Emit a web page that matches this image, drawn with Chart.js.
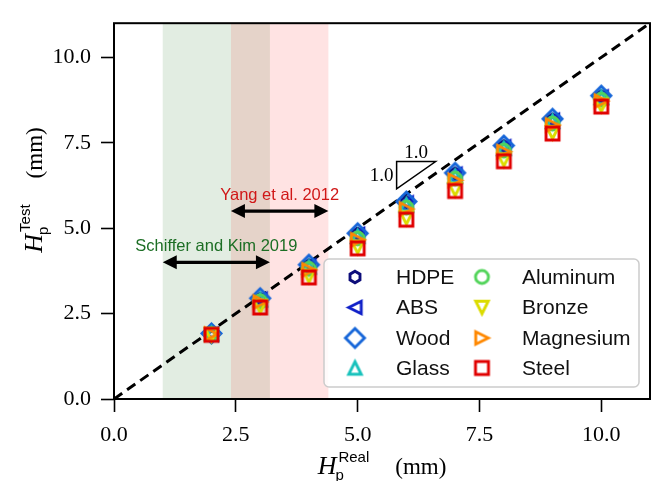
<!DOCTYPE html>
<html><head><meta charset="utf-8">
<script src="https://cdn.jsdelivr.net/npm/chart.js@4.4.0/dist/chart.umd.min.js"></script>
<style>html,body{margin:0;padding:0;background:#fff;}#wrap{width:666px;height:481px;position:relative;}</style>
</head><body><div id="wrap"><canvas id="c" width="666" height="481"></canvas></div>
<script>
// ---------------- data ----------------
const xValues   = [2, 3, 4, 5, 6, 7, 8, 9, 10];
const hdpe      = [1.91, 2.93, 3.91, 4.83, 5.76, 6.60, 7.40, 8.18, 8.86];
const abs       = [1.90, 2.92, 3.90, 4.82, 5.74, 6.58, 7.38, 8.16, 8.84];
const wood      = [1.92, 2.95, 3.93, 4.85, 5.78, 6.62, 7.42, 8.20, 8.88];
const glass     = [1.91, 2.90, 3.86, 4.76, 5.68, 6.52, 7.33, 8.12, 8.82];
const aluminum  = [1.90, 2.86, 3.81, 4.70, 5.60, 6.45, 7.27, 8.06, 8.76];
const bronze    = [1.88, 2.71, 3.60, 4.45, 5.30, 6.13, 7.00, 7.80, 8.60];
const magnesium = [1.90, 2.84, 3.78, 4.66, 5.56, 6.40, 7.24, 8.02, 8.72];
const steel     = [1.88, 2.68, 3.56, 4.41, 5.25, 6.09, 6.96, 7.77, 8.56];
const materials = ['HDPE', 'ABS', 'Wood', 'Glass', 'Aluminum', 'Bronze', 'Magnesium', 'Steel'];
const seriesValues = [hdpe, abs, wood, glass, aluminum, bronze, magnesium, steel];
const tickValues = [0, 2.5, 5, 7.5, 10];
const axisRange = [0, 11];
const identityLine = [0, 11];
const spanSchiffer = [1.0, 3.2];
const spanYang = [2.4, 4.4];
const arrowSchifferY = 4.0;
const arrowYangY = 5.5;
const slopeTriangle = [[5.8, 6.95], [6.6, 6.95], [5.8, 6.15]];

// ---------------- styles ----------------
const markerStyles = [
  {shape:'hex',     color:'#0d0d7a', size:11.5},
  {shape:'left',    color:'#1020c8', size:12.5},
  {shape:'diamond', color:'#1565d8', size:19},
  {shape:'up',      color:'#19c2bc', size:12.5},
  {shape:'circle',  color:'#52d45a', size:13},
  {shape:'down',    color:'#dcdc00', size:12.5},
  {shape:'right',   color:'#ff8800', size:12.5},
  {shape:'square',  color:'#e00000', size:13}
];
function makeMarker(shape, color, size, lw){
  const S = Math.ceil(size + lw * 2 + 4);
  const c = document.createElement('canvas'); c.width = S; c.height = S;
  const g = c.getContext('2d');
  g.strokeStyle = color; g.lineWidth = lw; g.lineJoin = 'miter';
  const m = S / 2, r = size / 2;
  const poly = pts => { g.moveTo(m + pts[0][0], m + pts[0][1]); for (let i = 1; i < pts.length; i++) g.lineTo(m + pts[i][0], m + pts[i][1]); g.closePath(); };
  g.beginPath();
  if (shape === 'square') g.rect(m - r, m - r, 2 * r, 2 * r);
  else if (shape === 'circle') g.arc(m, m, r, 0, Math.PI * 2);
  else if (shape === 'diamond') poly([[0, -r], [r, 0], [0, r], [-r, 0]]);
  else if (shape === 'hex') { const p = []; for (let k = 0; k < 6; k++) { const a = -Math.PI / 2 + k * Math.PI / 3; p.push([r * Math.cos(a), r * Math.sin(a)]); } poly(p); }
  else if (shape === 'up') poly([[0, -r], [r, r], [-r, r]]);
  else if (shape === 'down') poly([[0, r], [r, -r], [-r, -r]]);
  else if (shape === 'left') poly([[-r, 0], [r, -r], [r, r]]);
  else if (shape === 'right') poly([[r, 0], [-r, -r], [-r, r]]);
  g.stroke();
  return c;
}
const markerImgs = markerStyles.map(s => makeMarker(s.shape, s.color, s.size, 2.9));

const datasets = materials.map((name, i) => ({
  type: 'scatter',
  label: name,
  data: xValues.map((x, j) => ({x: x, y: seriesValues[i][j]})),
  pointStyle: markerImgs[i],
  pointRadius: 6,
  pointHoverRadius: 6,
  order: materials.length - i
}));
datasets.push({
  type: 'line', label: 'y=x',
  data: identityLine.map(v => ({x: v, y: v})),
  borderColor: '#000', borderWidth: 3, borderDash: [10, 6],
  pointRadius: 0, fill: false, order: 100
});

// ---------------- plugins ----------------
function px(chart, x){ return chart.scales.x.getPixelForValue(x); }
function py(chart, y){ return chart.scales.y.getPixelForValue(y); }

const shadePlugin = {
  id: 'shade',
  beforeDatasetsDraw(chart){
    const ctx = chart.ctx, a = chart.chartArea;
    ctx.save();
    ctx.fillStyle = 'rgba(20,110,20,0.12)';
    ctx.fillRect(px(chart, spanSchiffer[0]), a.top, px(chart, spanSchiffer[1]) - px(chart, spanSchiffer[0]), a.bottom - a.top);
    ctx.fillStyle = 'rgba(255,40,40,0.13)';
    ctx.fillRect(px(chart, spanYang[0]), a.top, px(chart, spanYang[1]) - px(chart, spanYang[0]), a.bottom - a.top);
    ctx.restore();
  }
};

function drawArrow(ctx, x1, x2, y){
  const L = 14, W = 7;
  ctx.beginPath(); ctx.moveTo(x1 + L - 2, y); ctx.lineTo(x2 - L + 2, y); ctx.stroke();
  ctx.beginPath(); ctx.moveTo(x1, y); ctx.lineTo(x1 + L, y - W); ctx.lineTo(x1 + L, y + W); ctx.closePath(); ctx.fill();
  ctx.beginPath(); ctx.moveTo(x2, y); ctx.lineTo(x2 - L, y - W); ctx.lineTo(x2 - L, y + W); ctx.closePath(); ctx.fill();
}

const annotPlugin = {
  id: 'annot',
  afterDatasetsDraw(chart){
    const ctx = chart.ctx;
    ctx.save();
    ctx.strokeStyle = '#000'; ctx.fillStyle = '#000'; ctx.lineWidth = 3.2;
    drawArrow(ctx, px(chart, spanYang[0]), px(chart, spanYang[1]), py(chart, arrowYangY));
    drawArrow(ctx, px(chart, spanSchiffer[0]), px(chart, spanSchiffer[1]), py(chart, arrowSchifferY));
    ctx.font = '16.5px "Liberation Sans"'; ctx.textAlign = 'center'; ctx.textBaseline = 'alphabetic';
    ctx.fillStyle = '#d01818';
    ctx.fillText('Yang et al. 2012', (px(chart, spanYang[0]) + px(chart, spanYang[1])) / 2, py(chart, arrowYangY) - 11);
    ctx.fillStyle = '#1c6e24';
    ctx.fillText('Schiffer and Kim 2019', (px(chart, spanSchiffer[0]) + px(chart, spanSchiffer[1])) / 2, py(chart, arrowSchifferY) - 11);
    // slope triangle
    ctx.strokeStyle = '#000'; ctx.lineWidth = 1.5;
    ctx.beginPath();
    slopeTriangle.forEach((p, k) => { const X = px(chart, p[0]), Y = py(chart, p[1]); if (k === 0) ctx.moveTo(X, Y); else ctx.lineTo(X, Y); });
    ctx.closePath(); ctx.stroke();
    ctx.fillStyle = '#000'; ctx.font = '19px "Liberation Serif"';
    ctx.textAlign = 'center'; ctx.textBaseline = 'alphabetic';
    ctx.fillText('1.0', (px(chart, slopeTriangle[0][0]) + px(chart, slopeTriangle[1][0])) / 2, py(chart, slopeTriangle[0][1]) - 4);
    ctx.textAlign = 'right'; ctx.textBaseline = 'middle';
    ctx.fillText('1.0', px(chart, slopeTriangle[0][0]) - 3, (py(chart, slopeTriangle[0][1]) + py(chart, slopeTriangle[2][1])) / 2 + 1);
    ctx.restore();
  }
};

function drawAxisTitle(ctx, sup){
  ctx.textAlign = 'left'; ctx.textBaseline = 'alphabetic';
  ctx.font = 'italic 26px "Liberation Serif"';
  const wH = ctx.measureText('H').width;
  ctx.font = '15px "Liberation Sans"';
  const wS = ctx.measureText(sup).width;
  ctx.font = '23px "Liberation Serif"';
  const wM = ctx.measureText('(mm)').width;
  const gap = 26;
  const total = wH + 2 + wS + gap + wM;
  let x = -total / 2;
  ctx.font = 'italic 26px "Liberation Serif"'; ctx.fillText('H', x, 0);
  ctx.font = '15px "Liberation Sans"';
  ctx.fillText('p', x + wH - 1, 6);
  ctx.fillText(sup, x + wH + 2, -12);
  ctx.font = '23px "Liberation Serif"';
  ctx.fillText('(mm)', x + wH + 2 + wS + gap, 0);
}

const framePlugin = {
  id: 'frame',
  afterDraw(chart){
    const ctx = chart.ctx, a = chart.chartArea;
    ctx.save();
    ctx.strokeStyle = '#000'; ctx.lineWidth = 2;
    ctx.strokeRect(a.left, a.top, a.right - a.left, a.bottom - a.top);
    ctx.fillStyle = '#000';
    ctx.save(); ctx.translate((a.left + a.right) / 2, 474); drawAxisTitle(ctx, 'Real'); ctx.restore();
    ctx.save(); ctx.translate(42, 190); ctx.rotate(-Math.PI / 2); drawAxisTitle(ctx, 'Test'); ctx.restore();
    // legend
    const L = 324, T = 259, R = 639, B = 387;
    ctx.beginPath();
    if (ctx.roundRect) ctx.roundRect(L, T, R - L, B - T, 5); else ctx.rect(L, T, R - L, B - T);
    ctx.fillStyle = 'rgba(255,255,255,0.85)'; ctx.fill();
    ctx.strokeStyle = '#cccccc'; ctx.lineWidth = 1.5; ctx.stroke();
    const rows = [277, 307.5, 338, 368];
    const cols = [{m: 355, t: 396}, {m: 482, t: 522}];
    ctx.font = '21px "Liberation Sans"'; ctx.textAlign = 'left'; ctx.textBaseline = 'middle'; ctx.fillStyle = '#111';
    materials.forEach((name, i) => {
      const col = cols[Math.floor(i / 4)], y = rows[i % 4];
      const img = markerImgs[i];
      ctx.drawImage(img, col.m - img.width / 2, y - img.height / 2);
      ctx.fillText(name, col.t, y + 1);
    });
    ctx.restore();
  }
};

const axisCommon = {
  type: 'linear', min: axisRange[0], max: axisRange[1],
  grid: {display: true, drawOnChartArea: false, drawTicks: true, tickLength: 13, tickWidth: 1.6, tickColor: '#000'},
  border: {display: false},
  afterBuildTicks: s => { s.ticks = tickValues.map(v => ({value: v})); },
  title: {display: false}
};

new Chart(document.getElementById('c'), {
  data: {datasets: datasets},
  options: {
    responsive: false, animation: false,
    layout: {padding: {left: 0, top: 6, right: 16, bottom: 0}},
    plugins: {legend: {display: false}, tooltip: {enabled: false}},
    scales: {
      x: Object.assign({}, axisCommon, {
        position: 'bottom',
        ticks: {color: '#000', font: {family: 'Liberation Serif', size: 22}, padding: 10, maxRotation: 0, callback: v => Number(v).toFixed(1)},
        afterFit: s => { s.height = 82; }
      }),
      y: Object.assign({}, axisCommon, {
        position: 'left',
        ticks: {color: '#000', font: {family: 'Liberation Serif', size: 22}, padding: 10, callback: v => Number(v).toFixed(1)},
        afterFit: s => { s.width = 114; }
      })
    }
  },
  plugins: [shadePlugin, annotPlugin, framePlugin]
});
</script></body></html>
